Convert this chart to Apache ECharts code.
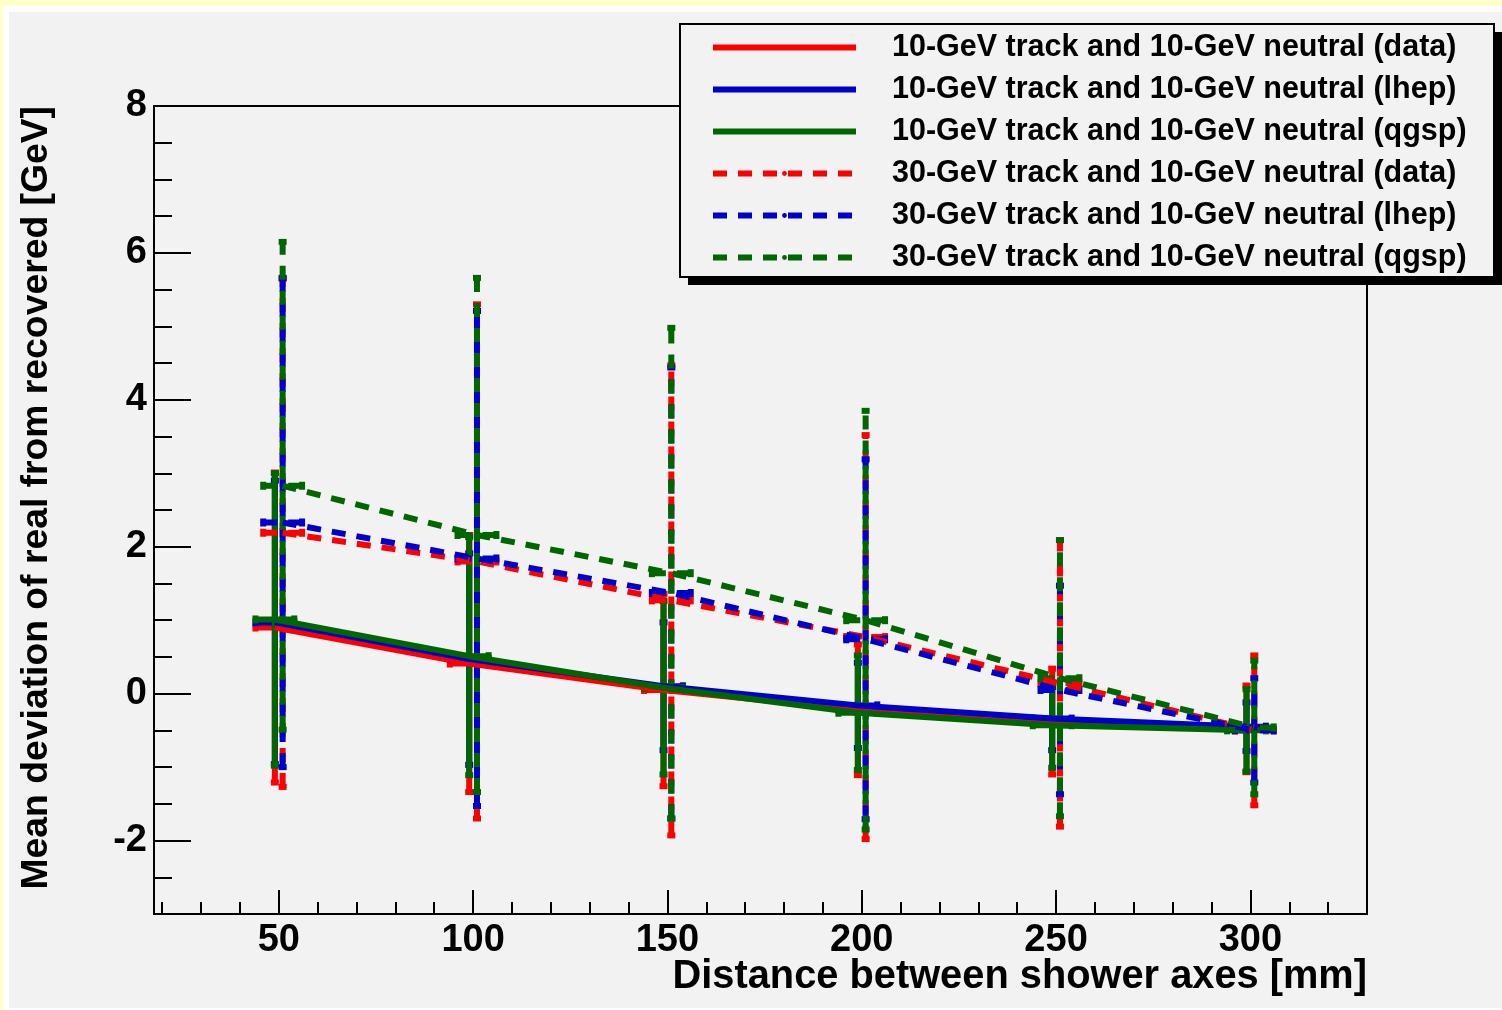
<!DOCTYPE html>
<html>
<head>
<meta charset="utf-8">
<title>Mean deviation vs distance</title>
<script src="https://cdn.jsdelivr.net/npm/echarts@6/dist/echarts.min.js"></script>
<style>
  html, body { margin: 0; padding: 0; background: #ffffcc; }
  #white { position: absolute; left: 3px; top: 6px; width: 1499px; height: 1004px; background: #ffffff; }
  #pad { position: absolute; left: 9px; top: 12px; width: 1493px; height: 996px; background: #f2f2f2; }
  #chart { position: absolute; left: 0; top: 0; width: 1502px; height: 1010px; }
</style>
</head>
<body>
<div id="white"></div>
<div id="pad"></div>
<div id="chart"></div>
<script>
// x positions (solid graphs drawn 1 mm left, dashed 1 mm right of nominal)
const xSolid = [49, 99, 149, 199, 249, 299];
const xDashed = [51, 101, 151, 201, 251, 301];
const xErr = 5;

// mean deviation [GeV] and its error
const y10data = [0.90, 0.41, 0.05, -0.22, -0.38, -0.48];
const e10data = [2.11, 1.75, 1.31, 0.89, 0.72, 0.59];
const y10lhep = [0.97, 0.47, 0.10, -0.16, -0.34, -0.45];
const e10lhep = [1.93, 1.44, 0.87, 0.58, 0.43, 0.33];
const y10qgsp = [1.01, 0.51, 0.08, -0.26, -0.43, -0.50];
const e10qgsp = [1.99, 1.62, 1.18, 0.78, 0.58, 0.56];
const y30data = [2.19, 1.80, 1.27, 0.77, 0.14, -0.50];
const e30data = [3.46, 3.50, 3.20, 2.75, 1.95, 1.02];
const y30lhep = [2.33, 1.84, 1.37, 0.74, 0.05, -0.50];
const e30lhep = [3.33, 3.37, 3.07, 2.45, 1.42, 0.71];
const y30qgsp = [2.83, 2.16, 1.64, 1.00, 0.21, -0.46];
const e30qgsp = [3.32, 3.50, 3.34, 2.85, 1.88, 0.91];

// axes
const xMin = 17.9, xMax = 330;
const yMin = -3, yMax = 8;
const xMajor = [50, 100, 150, 200, 250, 300];
const xMinor = [20, 30, 40, 60, 70, 80, 90, 110, 120, 130, 140, 160, 170, 180, 190, 210, 220, 230, 240, 260, 270, 280, 290, 310, 320];
const yMajor = [-2, 0, 2, 4, 6, 8];
const yMinor = [-2.5, -1.5, -1, -0.5, 0.5, 1, 1.5, 2.5, 3, 3.5, 4.5, 5, 5.5, 6.5, 7, 7.5];

const FONT = '"Liberation Sans", Arial, Helvetica, sans-serif';
const RED = '#ff0000', BLUE = '#0000cc', GREEN = '#006600';
const DASH = [14, 11];

const graphs = [
  { name: '10-GeV track and 10-GeV neutral (data)', x: xSolid, y: y10data, e: e10data, color: RED, dash: null },
  { name: '10-GeV track and 10-GeV neutral (lhep)', x: xSolid, y: y10lhep, e: e10lhep, color: BLUE, dash: null },
  { name: '10-GeV track and 10-GeV neutral (qgsp)', x: xSolid, y: y10qgsp, e: e10qgsp, color: GREEN, dash: null },
  { name: '30-GeV track and 10-GeV neutral (data)', x: xDashed, y: y30data, e: e30data, color: RED, dash: DASH },
  { name: '30-GeV track and 10-GeV neutral (lhep)', x: xDashed, y: y30lhep, e: e30lhep, color: BLUE, dash: DASH },
  { name: '30-GeV track and 10-GeV neutral (qgsp)', x: xDashed, y: y30qgsp, e: e30qgsp, color: GREEN, dash: DASH }
];

function errorRenderer(color, dash) {
  return function (params, api) {
    const x = api.value(0), y = api.value(1), ex = api.value(2), ey = api.value(3);
    const c = api.coord([x, y]);
    const top = api.coord([x, y + ey]);
    const bot = api.coord([x, y - ey]);
    const lft = api.coord([x - ex, y]);
    const rgt = api.coord([x + ex, y]);
    const st = { stroke: color, lineWidth: 6, lineDash: dash, fill: null };
    const cs = { stroke: color, lineWidth: 6, fill: null };
    const cap = 4;
    return {
      type: 'group',
      children: [
        { type: 'line', shape: { x1: c[0], y1: bot[1], x2: c[0], y2: top[1] }, style: st },
        { type: 'line', shape: { x1: lft[0], y1: c[1], x2: rgt[0], y2: c[1] }, style: st },
        { type: 'line', shape: { x1: c[0] - cap, y1: top[1], x2: c[0] + cap, y2: top[1] }, style: cs },
        { type: 'line', shape: { x1: c[0] - cap, y1: bot[1], x2: c[0] + cap, y2: bot[1] }, style: cs },
        { type: 'line', shape: { x1: lft[0], y1: c[1] - cap, x2: lft[0], y2: c[1] + cap }, style: cs },
        { type: 'line', shape: { x1: rgt[0], y1: c[1] - cap, x2: rgt[0], y2: c[1] + cap }, style: cs }
      ]
    };
  };
}

const series = [];
graphs.forEach(function (g) {
  series.push({
    name: g.name + ' errors',
    type: 'custom',
    renderItem: errorRenderer(g.color, g.dash),
    encode: { x: 0, y: 1 },
    data: g.x.map(function (x, i) { return [x, g.y[i], xErr, g.e[i]]; }),
    silent: true
  });
  series.push({
    name: g.name,
    type: 'line',
    symbol: 'none',
    data: g.x.map(function (x, i) { return [x, g.y[i]]; }),
    lineStyle: { color: g.color, width: 6, type: g.dash ? g.dash : 'solid' },
    itemStyle: { color: g.color },
    silent: true
  });
});

const tickLine = { color: '#000', width: 2 };

const chart = echarts.init(document.getElementById('chart'), null, { renderer: 'canvas' });
chart.setOption({
  animation: false,
  backgroundColor: 'transparent',
  grid: {
    left: 154, top: 106, right: 135, bottom: 96,
    show: true, borderColor: '#000', borderWidth: 2, backgroundColor: 'transparent'
  },
  xAxis: [{
    type: 'value', min: xMin, max: xMax, position: 'bottom',
    axisLine: { show: true, onZero: false, lineStyle: tickLine },
    axisTick: { show: true, inside: true, length: 24, customValues: xMajor, lineStyle: tickLine },
    axisLabel: { show: true, customValues: xMajor, margin: 8, color: '#000', fontFamily: FONT, fontWeight: 'bold', fontSize: 38 },
    splitLine: { show: false }
  }, {
    type: 'value', min: xMin, max: xMax, position: 'bottom',
    axisLine: { show: false, onZero: false },
    axisTick: { show: true, inside: true, length: 12, customValues: xMinor, lineStyle: tickLine },
    axisLabel: { show: false },
    splitLine: { show: false }
  }],
  yAxis: [{
    type: 'value', min: yMin, max: yMax, position: 'left',
    axisLine: { show: true, onZero: false, lineStyle: tickLine },
    axisTick: { show: true, inside: true, length: 37, customValues: yMajor, lineStyle: tickLine },
    axisLabel: { show: true, customValues: yMajor, margin: 7, padding: [7, 0, 0, 0], color: '#000', fontFamily: FONT, fontWeight: 'bold', fontSize: 38 },
    splitLine: { show: false }
  }, {
    type: 'value', min: yMin, max: yMax, position: 'left',
    axisLine: { show: false, onZero: false },
    axisTick: { show: true, inside: true, length: 18, customValues: yMinor, lineStyle: tickLine },
    axisLabel: { show: false },
    splitLine: { show: false }
  }],
  legend: {
    orient: 'vertical', left: 710, top: 32, padding: 0,
    itemWidth: 143, itemHeight: 6, itemGap: 11,
    data: graphs.map(function (g) { return g.name; }),
    lineStyle: { width: 6 },
    textStyle: { color: '#000', fontFamily: FONT, fontWeight: 'bold', fontSize: 30.5, lineHeight: 31, padding: [0, 0, 0, 31] },
    selectedMode: false,
    z: 100
  },
  graphic: [
    { type: 'rect', z: 90, shape: { x: 688, y: 32, width: 814, height: 253 }, style: { fill: '#000' } },
    { type: 'rect', z: 91, shape: { x: 680, y: 24, width: 814, height: 253 }, style: { fill: '#f2f2f2', stroke: '#000', lineWidth: 2 } },
    { type: 'text', z: 95, x: 1367, y: 977, style: { text: 'Distance between shower axes [mm]', align: 'right', verticalAlign: 'middle', fill: '#000', font: 'bold 39.8px ' + FONT } },
    { type: 'text', z: 95, x: 37, y: 106, rotation: Math.PI / 2, style: { text: 'Mean deviation of real from recovered [GeV]', align: 'right', verticalAlign: 'middle', fill: '#000', font: 'bold 37.3px ' + FONT } }
  ],
  series: series
});
</script>
</body>
</html>
